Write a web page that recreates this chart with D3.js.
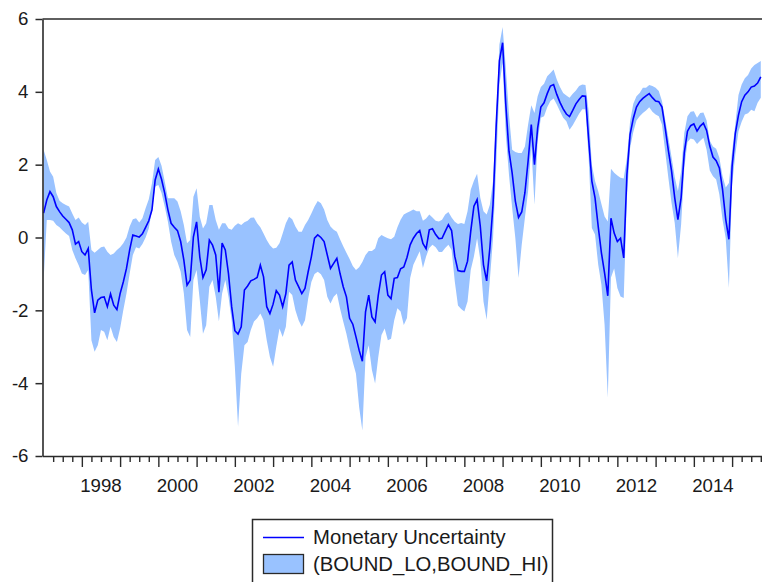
<!DOCTYPE html>
<html>
<head>
<meta charset="utf-8">
<script src="https://cdn.jsdelivr.net/npm/d3@7"></script>
<style>
  html, body { margin: 0; padding: 0; background: #fff; }
  svg { display: block; font-family: "Liberation Sans", Arial, sans-serif; }
</style>
</head>
<body>
<svg id="chart" width="762" height="582"></svg>
<script>
// Monthly series, 1997M01 .. 2015M10
const startYear = 1997;
const startMonth = 0;

const uncertainty = [
  0.67, 1.03, 1.26, 1.12, 0.85, 0.71, 0.59, 0.50, 0.41, 0.21, -0.18, -0.11,
  -0.39, -0.48, -0.30, -1.44, -2.07, -1.72, -1.65, -1.63, -1.90, -1.55, -1.86, -1.98,
  -1.54, -1.22, -0.85, -0.34, 0.07, 0.04, 0.01, 0.10, 0.28, 0.46, 0.76, 1.58,
  1.88, 1.60, 1.22, 0.76, 0.39, 0.28, 0.19, -0.11, -0.62, -1.31, -1.17, 0.02,
  0.43, -0.53, -1.10, -0.89, -0.07, -0.21, -0.48, -1.50, -0.15, -0.34, -0.99, -1.90,
  -2.56, -2.65, -2.45, -1.44, -1.33, -1.19, -1.15, -1.10, -0.76, -1.08, -1.90, -2.09,
  -1.83, -1.46, -1.58, -1.90, -1.54, -0.76, -0.67, -1.17, -1.35, -1.54, -1.40, -0.94,
  -0.53, -0.02, 0.07, 0.00, -0.11, -0.48, -0.85, -0.71, -0.57, -0.99, -1.35, -1.63,
  -2.22, -2.38, -2.73, -3.10, -3.40, -2.04, -1.58, -2.18, -2.32, -1.58, -1.03, -0.94,
  -1.58, -1.68, -1.12, -1.10, -0.86, -0.81, -0.55, -0.20, -0.02, 0.11, 0.19, -0.16,
  -0.31, 0.21, 0.24, 0.08, -0.03, -0.02, 0.17, 0.35, 0.19, -0.52, -0.91, -0.93,
  -0.93, -0.65, 0.17, 0.86, 1.04, 0.31, -0.75, -1.19, -0.29, 0.90, 3.10, 4.85,
  5.35, 3.65, 2.37, 1.77, 1.00, 0.55, 0.70, 1.23, 2.10, 3.10, 2.00, 3.01,
  3.58, 3.70, 3.95, 4.16, 4.20, 3.93, 3.71, 3.53, 3.39, 3.32, 3.49, 3.67,
  3.79, 3.89, 3.88, 2.69, 1.55, 1.09, 0.30, -0.42, -0.98, -1.60, 0.53, 0.12,
  -0.11, -0.02, -0.56, 1.73, 2.83, 3.27, 3.58, 3.73, 3.82, 3.89, 3.95, 3.84,
  3.75, 3.73, 3.58, 3.01, 2.39, 1.83, 1.09, 0.49, 1.09, 2.33, 2.92, 3.07,
  3.12, 2.92, 3.06, 3.14, 2.94, 2.51, 2.21, 2.11, 1.91, 1.32, 0.50, -0.05,
  1.95, 2.85, 3.36, 3.73, 3.91, 4.00, 4.13, 4.16, 4.24, 4.41
];

const boundHi = [
  2.41, 2.13, 1.81, 1.67, 1.22, 1.01, 0.94, 0.89, 0.85, 0.66, 0.48, 0.55,
  0.41, 0.34, 0.43, -0.34, -0.42, -0.34, -0.27, -0.25, -0.39, -0.48, -0.44, -0.34,
  -0.27, -0.16, 0.00, 0.30, 0.50, 0.53, 0.41, 0.53, 0.80, 1.05, 1.49, 2.13,
  2.21, 1.97, 1.54, 1.08, 1.08, 1.08, 0.99, 0.72, 0.34, -0.16, -0.07, 1.12,
  1.35, 0.57, 0.25, 0.39, 0.89, 0.89, 0.48, 0.21, 0.39, 0.39, 0.25, 0.21,
  0.32, 0.39, 0.34, 0.42, 0.46, 0.54, 0.55, 0.39, 0.28, 0.11, -0.07, -0.21,
  -0.30, -0.28, -0.16, 0.11, 0.39, 0.57, 0.50, 0.30, 0.16, 0.16, 0.34, 0.48,
  0.66, 0.85, 1.00, 0.94, 0.77, 0.48, 0.30, 0.21, 0.16, -0.05, -0.24, -0.42,
  -0.59, -0.78, -0.89, -0.82, -0.67, -0.48, -0.37, -0.37, -0.30, -0.02, 0.07, 0.02,
  -0.02, -0.05, 0.02, 0.28, 0.49, 0.63, 0.68, 0.72, 0.77, 0.72, 0.72, 0.46,
  0.52, 0.63, 0.55, 0.46, 0.44, 0.49, 0.63, 0.70, 0.55, 0.43, 0.37, 0.40,
  0.37, 0.72, 1.31, 1.56, 1.75, 1.09, 0.72, 0.63, 0.90, 1.55, 3.38, 5.30,
  5.78, 4.66, 3.38, 2.41, 2.35, 2.32, 2.32, 2.50, 3.10, 3.63, 3.42, 3.88,
  4.13, 4.22, 4.43, 4.52, 4.61, 4.34, 4.13, 3.97, 3.90, 3.84, 3.95, 4.04,
  4.16, 4.20, 4.19, 3.47, 1.99, 1.55, 1.27, 0.92, 0.58, 0.44, 1.89, 1.78,
  1.70, 1.64, 1.62, 2.19, 3.19, 3.67, 3.88, 3.97, 4.11, 4.11, 4.19, 4.16,
  4.11, 4.02, 3.75, 3.24, 2.74, 2.21, 1.66, 1.27, 1.82, 2.87, 3.33, 3.45,
  3.47, 3.29, 3.42, 3.43, 3.21, 2.66, 2.50, 2.44, 2.19, 1.69, 1.37, 1.50,
  2.37, 3.10, 3.91, 4.20, 4.37, 4.46, 4.64, 4.74, 4.79, 4.85
];

const boundLo = [
  -1.17, 0.48, 0.48, 0.46, 0.34, 0.28, 0.19, 0.11, 0.04, -0.34, -0.57, -0.76,
  -0.99, -1.03, -0.89, -2.82, -3.14, -2.96, -2.54, -2.59, -2.82, -2.45, -2.73, -2.87,
  -2.50, -2.00, -1.54, -0.99, -0.48, -0.27, -0.30, -0.18, 0.00, 0.25, 0.76, 1.40,
  1.44, 1.22, 0.85, 0.43, -0.11, -0.48, -0.67, -0.94, -1.54, -2.54, -2.73, -1.17,
  -0.89, -1.72, -2.64, -2.41, -1.35, -1.17, -1.63, -2.31, -1.54, -1.17, -1.63, -2.27,
  -3.55, -5.20, -3.74, -2.96, -2.87, -2.54, -2.31, -2.22, -2.09, -2.27, -2.82, -3.28,
  -3.55, -3.00, -2.50, -2.73, -2.45, -1.49, -1.58, -2.00, -2.27, -2.45, -2.27, -1.68,
  -1.22, -1.00, -0.94, -1.01, -1.17, -1.63, -1.81, -1.63, -1.54, -1.95, -2.31, -2.64,
  -3.05, -3.42, -3.74, -4.66, -5.30, -3.28, -2.96, -3.64, -4.01, -3.28, -2.68, -2.50,
  -2.82, -2.78, -2.27, -1.94, -2.03, -2.40, -2.21, -1.11, -0.75, -0.56, -0.38, -0.84,
  -0.52, -0.29, -0.20, -0.27, -0.40, -0.40, -0.29, -0.20, -0.34, -1.21, -1.87, -1.96,
  -2.03, -1.76, -0.89, -0.52, -0.02, -0.61, -1.76, -2.26, -1.16, -0.02, 2.00, 4.20,
  4.80, 2.83, 1.72, 0.81, -0.02, -1.11, -0.20, 0.54, 1.27, 2.51, 0.90, 2.65,
  3.29, 3.33, 3.58, 3.75, 3.82, 3.65, 3.47, 3.29, 3.19, 2.96, 3.08, 3.24,
  3.40, 3.52, 3.52, 2.19, 0.26, 0.08, -0.75, -1.30, -2.40, -4.40, -1.10, -0.85,
  -1.39, -1.62, -1.66, 1.09, 2.46, 2.90, 3.21, 3.33, 3.42, 3.49, 3.58, 3.45,
  3.38, 3.33, 3.10, 2.37, 1.64, 0.95, 0.40, -0.56, 0.35, 1.91, 2.62, 2.72,
  2.69, 2.57, 2.66, 2.74, 2.41, 1.84, 1.68, 1.59, 1.18, 0.49, -0.02, -1.39,
  1.45, 2.28, 2.92, 3.18, 3.38, 3.41, 3.51, 3.47, 3.70, 3.84
];

const yTicks = [-6, -4, -2, 0, 2, 4, 6];
const yearLabels = [1998, 2000, 2002, 2004, 2006, 2008, 2010, 2012, 2014];
const legendLabels = ["Monetary Uncertainty", "(BOUND_LO,BOUND_HI)"];

const bandColor = "#99c2ff";
const lineColor = "#0000ff";
const axisColor = "#2a2a2a";

// observation time as fractional year
const rows = uncertainty.map((v, i) => ({
  t: startYear + (startMonth + i) / 12,
  mid: v,
  lo: boundLo[i],
  hi: boundHi[i]
}));

const svg = d3.select("#chart");
const plotLeft = 42.5, plotRight = 762, plotTop = 19, plotBottom = 456;
const pxPerYear = 38.25;
const firstX = 43.6;

const x = d3.scaleLinear()
  .domain([startYear - (firstX - plotLeft) / pxPerYear, startYear + (plotRight - firstX) / pxPerYear])
  .range([plotLeft, plotRight]);
const y = d3.scaleLinear().domain([-6, 6]).range([plotBottom, plotTop]);

svg.append("clipPath").attr("id", "plot-clip")
  .append("rect")
  .attr("x", plotLeft).attr("y", plotTop)
  .attr("width", plotRight - plotLeft).attr("height", plotBottom - plotTop);

const plot = svg.append("g").attr("clip-path", "url(#plot-clip)");

// confidence band
plot.append("path")
  .datum(rows)
  .attr("fill", bandColor)
  .attr("stroke", "none")
  .attr("d", d3.area().x(d => x(d.t)).y0(d => y(d.lo)).y1(d => y(d.hi)));

// central series
plot.append("path")
  .datum(rows)
  .attr("fill", "none")
  .attr("stroke", lineColor)
  .attr("stroke-width", 1.6)
  .attr("stroke-linejoin", "miter")
  .attr("d", d3.line().x(d => x(d.t)).y(d => y(d.mid)));

// top frame line
svg.append("line")
  .attr("x1", plotLeft).attr("x2", plotRight)
  .attr("y1", plotTop).attr("y2", plotTop)
  .attr("stroke", axisColor).attr("stroke-width", 1.6);

// left axis
const yAxis = svg.append("g")
  .attr("transform", `translate(${plotLeft},0)`)
  .call(d3.axisLeft(y).tickValues(yTicks).tickSize(7).tickSizeOuter(0).tickPadding(7)
    .tickFormat(d => String(d)));
yAxis.select(".domain").attr("stroke", axisColor).attr("stroke-width", 1.6);
yAxis.selectAll(".tick line").attr("stroke", axisColor).attr("stroke-width", 1.5);
yAxis.selectAll(".tick text")
  .attr("fill", "#1a1a1a")
  .style("font-size", "18.7px")
  .style("font-family", "'Liberation Sans', Arial, sans-serif");

// bottom axis: yearly major ticks, quarterly minor ticks
const quarterTicks = [];
for (let q = startYear * 4 + 1; q / 4 <= x.domain()[1]; q++) {
  if (q % 4 !== 0) quarterTicks.push(q / 4);
}
const yearTicks = d3.range(startYear + 1, Math.floor(x.domain()[1]) + 1);

const xAxisMinor = svg.append("g")
  .attr("transform", `translate(0,${plotBottom})`)
  .call(d3.axisBottom(x).tickValues(quarterTicks).tickSize(6).tickSizeOuter(0).tickFormat(""));
xAxisMinor.select(".domain").attr("stroke", axisColor).attr("stroke-width", 1.6);
xAxisMinor.selectAll(".tick line").attr("stroke", axisColor).attr("stroke-width", 1.4);

const xAxisMajor = svg.append("g")
  .attr("transform", `translate(0,${plotBottom})`)
  .call(d3.axisBottom(x).tickValues(yearTicks).tickSize(11).tickSizeOuter(0).tickFormat(""));
xAxisMajor.select(".domain").remove();
xAxisMajor.selectAll(".tick line").attr("stroke", axisColor).attr("stroke-width", 1.4);

// year labels centred within their year
svg.append("g").selectAll("text")
  .data(yearLabels)
  .join("text")
  .attr("x", d => x(d + 0.5))
  .attr("y", 492)
  .attr("text-anchor", "middle")
  .attr("fill", "#1a1a1a")
  .style("font-size", "18.7px")
  .text(d => d);

// legend
const lg = svg.append("g");
lg.append("rect")
  .attr("x", 252.5).attr("y", 519.5)
  .attr("width", 300).attr("height", 80)
  .attr("fill", "#fff")
  .attr("stroke", axisColor).attr("stroke-width", 1.5);
lg.append("line")
  .attr("x1", 263).attr("x2", 304)
  .attr("y1", 537.5).attr("y2", 537.5)
  .attr("stroke", lineColor).attr("stroke-width", 1.6);
lg.append("rect")
  .attr("x", 263.5).attr("y", 554.5)
  .attr("width", 40).attr("height", 19)
  .attr("fill", bandColor)
  .attr("stroke", axisColor).attr("stroke-width", 1.3);
lg.selectAll("text.lbl")
  .data(legendLabels)
  .join("text")
  .attr("class", "lbl")
  .attr("x", 313)
  .attr("y", (d, i) => i === 0 ? 543.5 : 571)
  .attr("fill", "#1a1a1a")
  .style("font-size", "20.3px")
  .text(d => d);
</script>
</body>
</html>
